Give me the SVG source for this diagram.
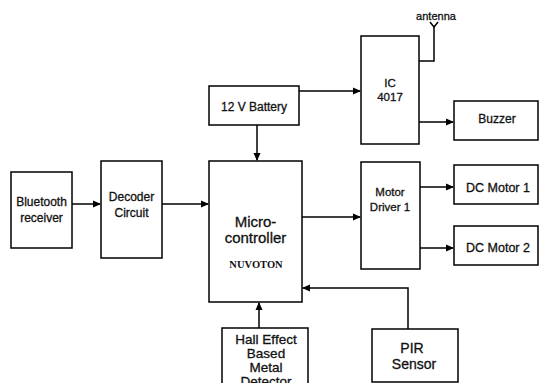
<svg xmlns="http://www.w3.org/2000/svg" width="539" height="383" viewBox="0 0 539 383">
<style>
.b{fill:#fff;stroke:#000;stroke-width:1.5}
.t{font-family:"Liberation Sans",Arial,sans-serif;fill:#111;stroke:#111;stroke-width:0.3;text-anchor:middle}
.c{fill:none;stroke:#000;stroke-width:1.5}
</style>
<defs>
<marker id="a" markerWidth="8" markerHeight="8" refX="7" refY="4" orient="auto" markerUnits="userSpaceOnUse">
<path d="M0,0.5 L8,4 L0,7.5 Z" fill="#000"/>
</marker>
</defs>
<rect width="539" height="383" fill="#fff"/>
<g id="connectors">
<line class="c" x1="72" y1="204" x2="100" y2="204" marker-end="url(#a)"/>
<line class="c" x1="162" y1="204" x2="208" y2="204" marker-end="url(#a)"/>
<line class="c" x1="257" y1="125" x2="257" y2="160" marker-end="url(#a)"/>
<line class="c" x1="299" y1="91" x2="360" y2="91" marker-end="url(#a)"/>
<line class="c" x1="302" y1="217" x2="360" y2="217" marker-end="url(#a)"/>
<line class="c" x1="419" y1="122" x2="453" y2="122" marker-end="url(#a)"/>
<line class="c" x1="420" y1="187" x2="453" y2="187" marker-end="url(#a)"/>
<line class="c" x1="420" y1="248" x2="453" y2="248" marker-end="url(#a)"/>
<line class="c" x1="259" y1="328" x2="259" y2="303" marker-end="url(#a)"/>
<polyline class="c" points="408,329 408,288 303,288" marker-end="url(#a)"/>
<polyline class="c" points="419,61 434,61 434,27"/>
<polyline class="c" points="430,22 434,27 438,22" stroke-width="1"/>
</g>
<g id="bluetooth"><rect class="b" x="11" y="172" width="61" height="76"/>
<text class="t" font-size="12" x="41.5" y="206">Bluetooth</text>
<text class="t" font-size="12" x="41.5" y="222">receiver</text></g>
<g id="decoder"><rect class="b" x="101" y="161" width="61" height="97"/>
<text class="t" font-size="12" x="131.5" y="201">Decoder</text>
<text class="t" font-size="12" x="131.5" y="217">Circuit</text></g>
<g id="battery"><rect class="b" x="209" y="86" width="90" height="39"/>
<text class="t" font-size="12" x="254" y="111">12 V Battery</text></g>
<g id="mcu"><rect class="b" x="209" y="161" width="93" height="141"/>
<text class="t" font-size="15" x="255.5" y="227">Micro-</text>
<text class="t" font-size="15" x="255.5" y="243">controller</text>
<text x="256" y="268" font-size="10.5" font-weight="bold" text-anchor="middle" font-family="'Liberation Serif','Times New Roman',serif" fill="#111">NUVOTON</text></g>
<g id="ic4017"><rect class="b" x="361" y="36" width="58" height="108"/>
<text class="t" font-size="11.5" x="390" y="87">IC</text>
<text class="t" font-size="11.5" x="390" y="101">4017</text></g>
<g id="antenna"><text class="t" font-size="11" x="436" y="20" stroke-width="0.15">antenna</text></g>
<g id="buzzer"><rect class="b" x="454" y="101" width="84" height="39"/>
<text class="t" font-size="12" x="497" y="123">Buzzer</text></g>
<g id="motordriver"><rect class="b" x="361" y="162" width="59" height="107"/>
<text class="t" font-size="11.5" x="390" y="196">Motor</text>
<text class="t" font-size="11.5" x="390" y="211">Driver 1</text></g>
<g id="dcmotor1"><rect class="b" x="454" y="165" width="84" height="39"/>
<text class="t" font-size="12.5" x="498" y="191.5">DC Motor 1</text></g>
<g id="dcmotor2"><rect class="b" x="454" y="226" width="84" height="39"/>
<text class="t" font-size="12.5" x="498" y="251.5">DC Motor 2</text></g>
<g id="halleffect"><rect class="b" x="222" y="328" width="86" height="60"/>
<text class="t" font-size="13.5" x="266" y="344">Hall Effect</text>
<text class="t" font-size="13.5" x="266" y="358">Based</text>
<text class="t" font-size="13.5" x="266" y="372">Metal</text>
<text class="t" font-size="13.5" x="266" y="386">Detector</text></g>
<g id="pir"><rect class="b" x="372" y="329" width="86" height="53"/>
<text class="t" font-size="14" x="412" y="353">PIR</text>
<text class="t" font-size="14" x="414" y="369">Sensor</text></g>
</svg>
